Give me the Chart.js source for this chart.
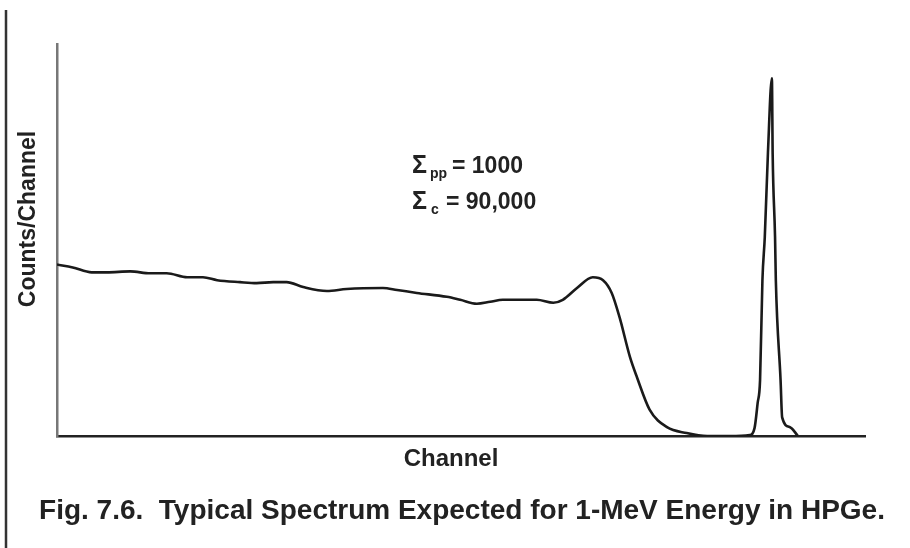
<!DOCTYPE html>
<html>
  <head>
    <meta charset="UTF-8">
    <title>Typical Spectrum Expected for 1-MeV Energy in HPGe</title>
    <script src="https://cdn.jsdelivr.net/npm/chart.js"></script>
    <style>
      html, body { margin: 0; padding: 0; background: #fff; }
      #wrap { position: relative; width: 910px; height: 548px; }
    </style>
  </head>
  <body>
    <div id="wrap">
      <canvas id="specChart" width="910" height="548"></canvas>
    </div>
    <script>
      // channel numbers and counts (arbitrary units)
      const channels = [0, 20, 44, 63, 93, 118, 139, 165, 185, 203, 232, 253, 274, 291, 312, 342,
        367, 413, 431, 456, 494, 511, 532, 549, 565, 608, 629, 641, 659, 679, 692, 703, 713, 726,
        735, 751, 773, 798, 824, 853, 878, 884, 888, 891, 894, 897, 901, 906, 907, 910, 911, 917,
        919, 929, 939];
      const counts = [175, 172, 167, 167, 168, 166, 166, 162, 162, 159, 157, 156, 157, 157, 152, 148,
        150, 151, 149, 146, 142, 139, 135, 137, 139, 139, 136, 139, 151, 162, 159, 146, 121, 81,
        60, 27, 9, 3, 0, 0, 1, 8, 34, 57, 159, 203, 289, 365, 287, 203, 159, 57,
        19, 9, 0];

      const xLabel = 'Channel';
      const yLabel = 'Counts/Channel';
      const caption = 'Fig. 7.6.  Typical Spectrum Expected for 1-MeV Energy in HPGe.';
      const sumPP = '1000';
      const sumC = '90,000';

      const points = channels.map((c, i) => ({ x: c, y: counts[i] }));

      const FONT = '"Liberation Sans", Arial, sans-serif';

      // texts, page rule and the sigma notes
      const decorations = {
        id: 'decorations',
        afterDraw(chart) {
          const ctx = chart.ctx;
          ctx.save();

          // page edge rule on the left
          ctx.strokeStyle = '#333';
          ctx.lineWidth = 2.5;
          ctx.beginPath();
          ctx.moveTo(6, 10);
          ctx.lineTo(6, 548);
          ctx.stroke();

          ctx.fillStyle = '#222';

          // y axis label
          ctx.save();
          ctx.translate(35, 219);
          ctx.rotate(-Math.PI / 2);
          ctx.font = 'bold 23px ' + FONT;
          ctx.textAlign = 'center';
          ctx.textBaseline = 'alphabetic';
          ctx.fillText(yLabel, 0, 0);
          ctx.restore();

          // x axis label
          ctx.font = 'bold 24px ' + FONT;
          ctx.textAlign = 'center';
          ctx.textBaseline = 'alphabetic';
          ctx.fillText(xLabel, 451, 466);

          // caption
          ctx.font = 'bold 28px ' + FONT;
          ctx.fillText(caption, 462, 519, 846);

          // sigma notes
          ctx.textAlign = 'left';
          ctx.font = 'bold 25px ' + FONT;
          ctx.fillText('\u03A3', 412, 173);
          ctx.fillText('\u03A3', 412, 209);
          ctx.font = 'bold 14px ' + FONT;
          ctx.fillText('pp', 430, 178);
          ctx.fillText('c', 431, 214);
          ctx.font = 'bold 23px ' + FONT;
          ctx.fillText('= ' + sumPP, 452, 173);
          ctx.fillText('= ' + sumC, 446, 209);

          ctx.restore();
        }
      };

      const ctx = document.getElementById('specChart').getContext('2d');
      const specChart = new Chart(ctx, {
        type: 'line',
        data: {
          datasets: [{
            data: points,
            borderColor: '#1a1a1a',
            borderWidth: 2.6,
            pointRadius: 0,
            fill: false,
            cubicInterpolationMode: 'monotone'
          }]
        },
        options: {
          responsive: false,
          animation: false,
          layout: { padding: { left: 49, right: 45, top: 44, bottom: 104 } },
          plugins: {
            legend: { display: false },
            tooltip: { enabled: false },
            title: { display: false }
          },
          scales: {
            x: {
              type: 'linear',
              min: 0,
              max: 1024,
              grid: { display: false },
              ticks: { display: false },
              border: { display: true, color: '#222', width: 2.5 }
            },
            y: {
              min: 0,
              max: 400,
              grid: { display: false },
              ticks: { display: false },
              border: { display: true, color: '#777', width: 2.5 }
            }
          }
        },
        plugins: [decorations]
      });
    </script>
  </body>
</html>
